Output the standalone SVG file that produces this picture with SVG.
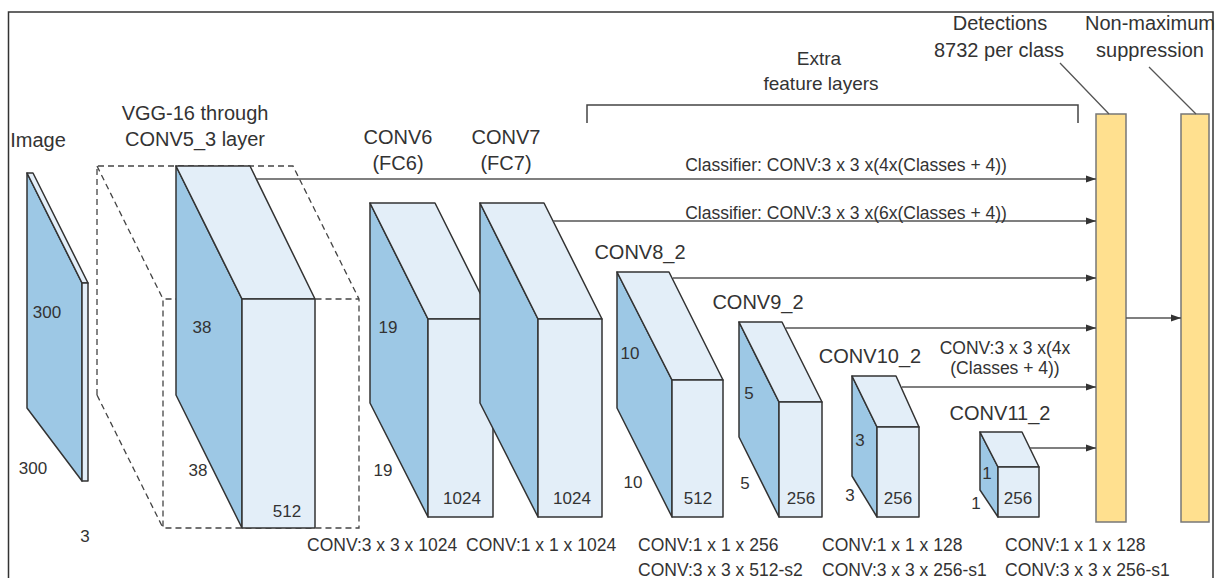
<svg xmlns="http://www.w3.org/2000/svg" width="1217" height="578" viewBox="0 0 1217 578">
<style>
text{font-family:"Liberation Sans",Arial,sans-serif;fill:#333}
.t{font-size:20px;text-anchor:middle}
.n{font-size:17px;text-anchor:middle}
.s{font-size:17.5px}
.sm{font-size:17.5px;text-anchor:middle}
.blue{fill:#9DC8E5;stroke:#333;stroke-width:1.5;stroke-linejoin:round}
.light{fill:#E3EEF8;stroke:#333;stroke-width:1.5;stroke-linejoin:round}
.dash{fill:none;stroke:#444;stroke-width:1.3;stroke-dasharray:6 4}
.ln{fill:none;stroke:#555;stroke-width:1.6}
.bar{fill:#FFE08F;stroke:#777;stroke-width:1.5}
</style>
<defs>
<marker id="ah" markerUnits="userSpaceOnUse" markerWidth="10" markerHeight="8" refX="10" refY="4" orient="auto">
<path d="M0,0.5 L10,4 L0,7.5 Z" fill="#333"/>
</marker>
</defs>
<rect width="1217" height="578" fill="#fff"/>
<g id="frame"><path d="M8.5,590 V12 H1213 V590" fill="none" stroke="#333" stroke-width="1.5"/></g>

<g id="image">
<polygon class="blue" points="27,173 82,283 82,481 27,408"/>
<polygon class="light" points="27,173 33,173 88,283 82,283"/>
<rect class="light" x="82" y="283" width="6" height="198"/>
<text class="t" x="38" y="147">Image</text>
<text class="n" x="47" y="318">300</text>
<text class="n" x="33" y="474">300</text>
<text class="n" x="85" y="542">3</text>
</g>

<g id="vgg">
<path class="dash" d="M97,395 V166 H293 L359,299 V528 H163 V299 H359 M97,166 L163,299 M97,395 L163,528"/>
<polygon class="blue" points="176,166 242,299 242,528 176,395"/>
<polygon class="light" points="176,166 250,166 315,299 242,299"/>
<rect class="light" x="242" y="299" width="73" height="229"/>
<text class="t" x="195" y="120">VGG-16 through</text>
<text class="t" x="195" y="146">CONV5_3 layer</text>
<text class="n" x="202" y="333">38</text>
<text class="n" x="198" y="476">38</text>
<text class="n" x="287" y="517">512</text>
</g>

<g id="conv6">
<polygon class="blue" points="370,203 428,319 428,517 370,403"/>
<polygon class="light" points="370,203 435,203 493,319 428,319"/>
<rect class="light" x="428" y="319" width="65" height="198"/>
<text class="t" x="398" y="144">CONV6</text>
<text class="t" x="398" y="170">(FC6)</text>
<text class="n" x="388" y="333">19</text>
<text class="n" x="383" y="476">19</text>
<text class="n" x="462" y="504">1024</text>
<text class="s" x="307" y="551">CONV:3 x 3 x 1024</text>
</g>

<g id="conv7">
<polygon class="blue" points="480,203 538,319 538,517 480,403"/>
<polygon class="light" points="480,203 544,203 602,319 538,319"/>
<rect class="light" x="538" y="319" width="64" height="198"/>
<text class="t" x="506" y="144">CONV7</text>
<text class="t" x="506" y="170">(FC7)</text>
<text class="n" x="572" y="504">1024</text>
<text class="s" x="466" y="551">CONV:1 x 1 x 1024</text>
</g>

<g id="conv8">
<polygon class="blue" points="617,272 672,380 672,517 617,408"/>
<polygon class="light" points="617,272 669,272 723,380 672,380"/>
<rect class="light" x="672" y="380" width="51" height="137"/>
<text class="t" x="640" y="259">CONV8_2</text>
<text class="n" x="630" y="359">10</text>
<text class="n" x="633" y="488">10</text>
<text class="n" x="698" y="504">512</text>
<text class="s" x="638" y="551">CONV:1 x 1 x 256</text>
<text class="s" x="638" y="576">CONV:3 x 3 x 512-s2</text>
</g>

<g id="conv9">
<polygon class="blue" points="739,322 779,402 779,517 739,437"/>
<polygon class="light" points="739,322 782,322 822,402 779,402"/>
<rect class="light" x="779" y="402" width="43" height="115"/>
<text class="t" x="758" y="309">CONV9_2</text>
<text class="n" x="749" y="399">5</text>
<text class="n" x="745" y="489">5</text>
<text class="n" x="801" y="504">256</text>
</g>

<g id="conv10">
<polygon class="blue" points="852,376 877,427 877,517 852,476"/>
<polygon class="light" points="852,376 896,376 919,427 877,427"/>
<rect class="light" x="877" y="427" width="42" height="90"/>
<text class="t" x="870" y="363">CONV10_2</text>
<text class="n" x="860" y="446">3</text>
<text class="n" x="850" y="501">3</text>
<text class="n" x="898" y="504">256</text>
<text class="s" x="822" y="551">CONV:1 x 1 x 128</text>
<text class="s" x="822" y="576">CONV:3 x 3 x 256-s1</text>
</g>

<g id="conv11">
<polygon class="blue" points="980,432 998,467 998,517 980,490"/>
<polygon class="light" points="980,432 1022,432 1039,467 998,467"/>
<rect class="light" x="998" y="467" width="41" height="50"/>
<text class="t" x="1000" y="420">CONV11_2</text>
<text class="n" x="987" y="479">1</text>
<text class="n" x="976" y="509">1</text>
<text class="n" x="1018" y="504">256</text>
<text class="s" x="1005" y="551">CONV:1 x 1 x 128</text>
<text class="s" x="1005" y="576">CONV:3 x 3 x 256-s1</text>
</g>

<g id="extra">
<path d="M587,123 V105 H1078 V123" fill="none" stroke="#444" stroke-width="1.5"/>
<text class="t" x="819" y="65" style="font-size:19px">Extra</text>
<text class="t" x="821" y="90" style="font-size:19px">feature layers</text>
</g>

<g id="detections">
<rect class="bar" x="1096" y="114" width="30" height="408"/>
<text class="t" x="1000" y="30">Detections</text>
<text class="t" x="999" y="57">8732 per class</text>
</g>

<g id="nms">
<rect class="bar" x="1181" y="114" width="28" height="408"/>
<text class="t" x="1150" y="30">Non-maximum</text>
<text class="t" x="1150" y="57">suppression</text>
</g>

<g id="connectors">
<path class="ln" d="M257,179 H1096" marker-end="url(#ah)"/>
<path class="ln" d="M553,221 H1096" marker-end="url(#ah)"/>
<path class="ln" d="M673,278 H1096" marker-end="url(#ah)"/>
<path class="ln" d="M786,328 H1096" marker-end="url(#ah)"/>
<path class="ln" d="M902,387 H1096" marker-end="url(#ah)"/>
<path class="ln" d="M1030,448 H1096" marker-end="url(#ah)"/>
<path class="ln" d="M1126,318 H1181" marker-end="url(#ah)"/>
<path d="M1060,63 L1109,114 M1149,67 L1196,114" fill="none" stroke="#555" stroke-width="1.3"/>
<text class="sm" x="846" y="171">Classifier: CONV:3 x 3 x(4x(Classes + 4))</text>
<text class="sm" x="846" y="219">Classifier: CONV:3 x 3 x(6x(Classes + 4))</text>
<text class="sm" x="1005" y="354">CONV:3 x 3 x(4x</text>
<text class="sm" x="1005" y="374">(Classes + 4))</text>
</g>
</svg>
